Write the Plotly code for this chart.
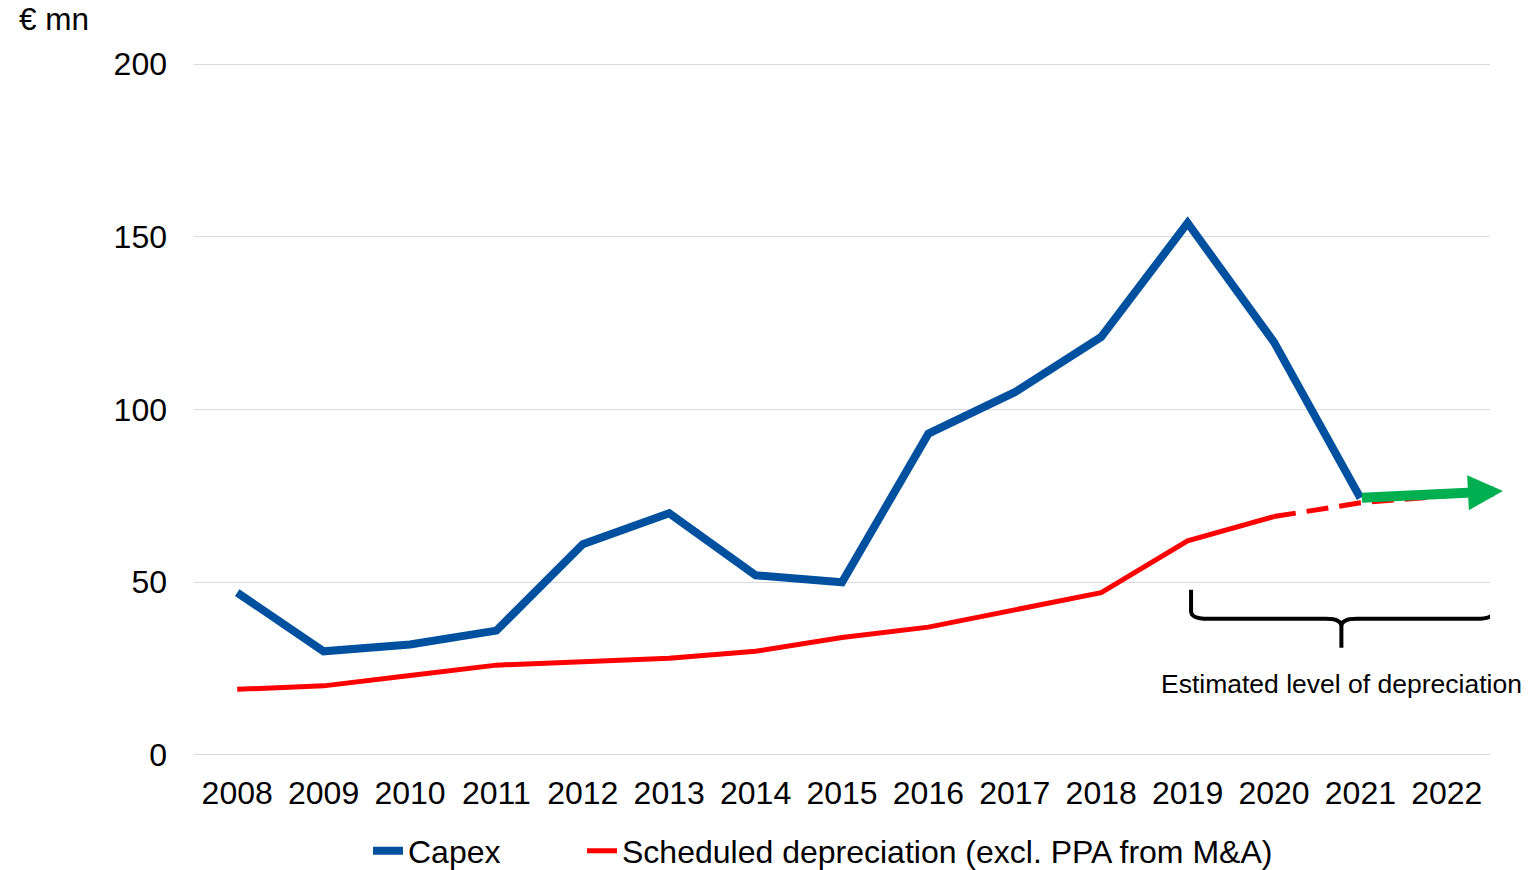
import plotly.graph_objects as go

years = [2008, 2009, 2010, 2011, 2012, 2013, 2014, 2015, 2016, 2017, 2018, 2019, 2020, 2021, 2022]
capex_years = years[:14]
capex = [47, 30, 32, 36, 61, 70, 52, 50, 93, 105, 121, 154, 119.5, 74.4]
dep_years = years[:13]
depreciation = [19, 20, 23, 26, 27, 28, 30, 34, 37, 42, 47, 62, 69]
dep_est_years = [2020, 2021, 2022]
dep_est = [69, 73, 75]
arrow_start = (2021, 74.4)
arrow_end = (2022.65, 76.4)
yticks = [0, 50, 100, 150, 200]

BLUE = "#0050A0"
RED = "#FF0000"
GREEN = "#00B050"
FONT = "Liberation Sans, Arial, sans-serif"

fig = go.Figure()
fig.add_trace(go.Scatter(x=dep_est_years, y=dep_est, mode="lines",
                         line=dict(color=RED, width=5, dash="22px,11px"),
                         showlegend=False, hoverinfo="skip"))
fig.add_trace(go.Scatter(x=capex_years, y=capex, mode="lines", name="Capex",
                         line=dict(color=BLUE, width=8), legend="legend"))
fig.add_trace(go.Scatter(x=dep_years, y=depreciation, mode="lines",
                         name="Scheduled depreciation (excl. PPA from M&A)",
                         line=dict(color=RED, width=5), legend="legend2"))

# green arrow
fig.add_annotation(x=arrow_end[0], y=arrow_end[1], ax=arrow_start[0], ay=arrow_start[1],
                   xref="x", yref="y", axref="x", ayref="y", text="",
                   showarrow=True, arrowhead=2, arrowsize=0.7, arrowwidth=10,
                   arrowcolor=GREEN, standoff=0)

# brace
xl, xc, xr = 2019.04, 2020.78, 2022.54
yt, yh, yb = 47.8, 39.4, 31.0
path = (f"M {xl},{yt} L {xl},{yh+2.2} Q {xl},{yh} {xl+0.2},{yh} "
        f"L {xc-0.18},{yh} Q {xc},{yh} {xc},{yh-2.2} L {xc},{yb} "
        f"M {xc},{yh-2.2} Q {xc},{yh} {xc+0.18},{yh} "
        f"L {xr-0.2},{yh} Q {xr},{yh} {xr},{yh+2.2} L {xr},{yt}")
fig.add_shape(type="path", path=path, xref="x", yref="y",
              line=dict(color="black", width=4))

fig.add_annotation(x=xc, y=20.5, xref="x", yref="y", text="Estimated level of depreciation",
                   showarrow=False, font=dict(size=26.5, color="black", family=FONT))

fig.add_annotation(x=(17 - 194) / 1296, y=(755 - 20) / 691, xref="paper", yref="paper",
                   text="€ mn", showarrow=False, xanchor="left", yanchor="middle",
                   font=dict(size=31.5, color="black", family=FONT))

legend_common = dict(orientation="h", xref="container", yref="container",
                     xanchor="left", y=1 - 851 / 870, yanchor="middle",
                     font=dict(size=32, family=FONT, color="black"),
                     bgcolor="rgba(0,0,0,0)")

fig.update_layout(
    width=1534, height=870,
    margin=dict(l=194, r=44, t=63, b=114),
    plot_bgcolor="white", paper_bgcolor="white",
    font=dict(family=FONT, size=32, color="black"),
    showlegend=True,
    legend=dict(x=368 / 1534, **legend_common),
    legend2=dict(x=582 / 1534, **legend_common),
    xaxis=dict(range=[2007.5, 2022.5], tickvals=years, ticktext=[str(y) for y in years],
               showgrid=False, zeroline=False, showline=False, ticks="",
               ticklabelstandoff=15, tickfont=dict(size=32)),
    yaxis=dict(range=[-0.3, 200.3], tickvals=yticks, showgrid=True, gridcolor="#D9D9D9",
               gridwidth=1.3, zeroline=False, showline=False, ticks="",
               ticklabelstandoff=26, tickfont=dict(size=32)),
)

fig.write_html("out.html", config={"displayModeBar": False},
               post_script="document.body.style.margin='0px';")
